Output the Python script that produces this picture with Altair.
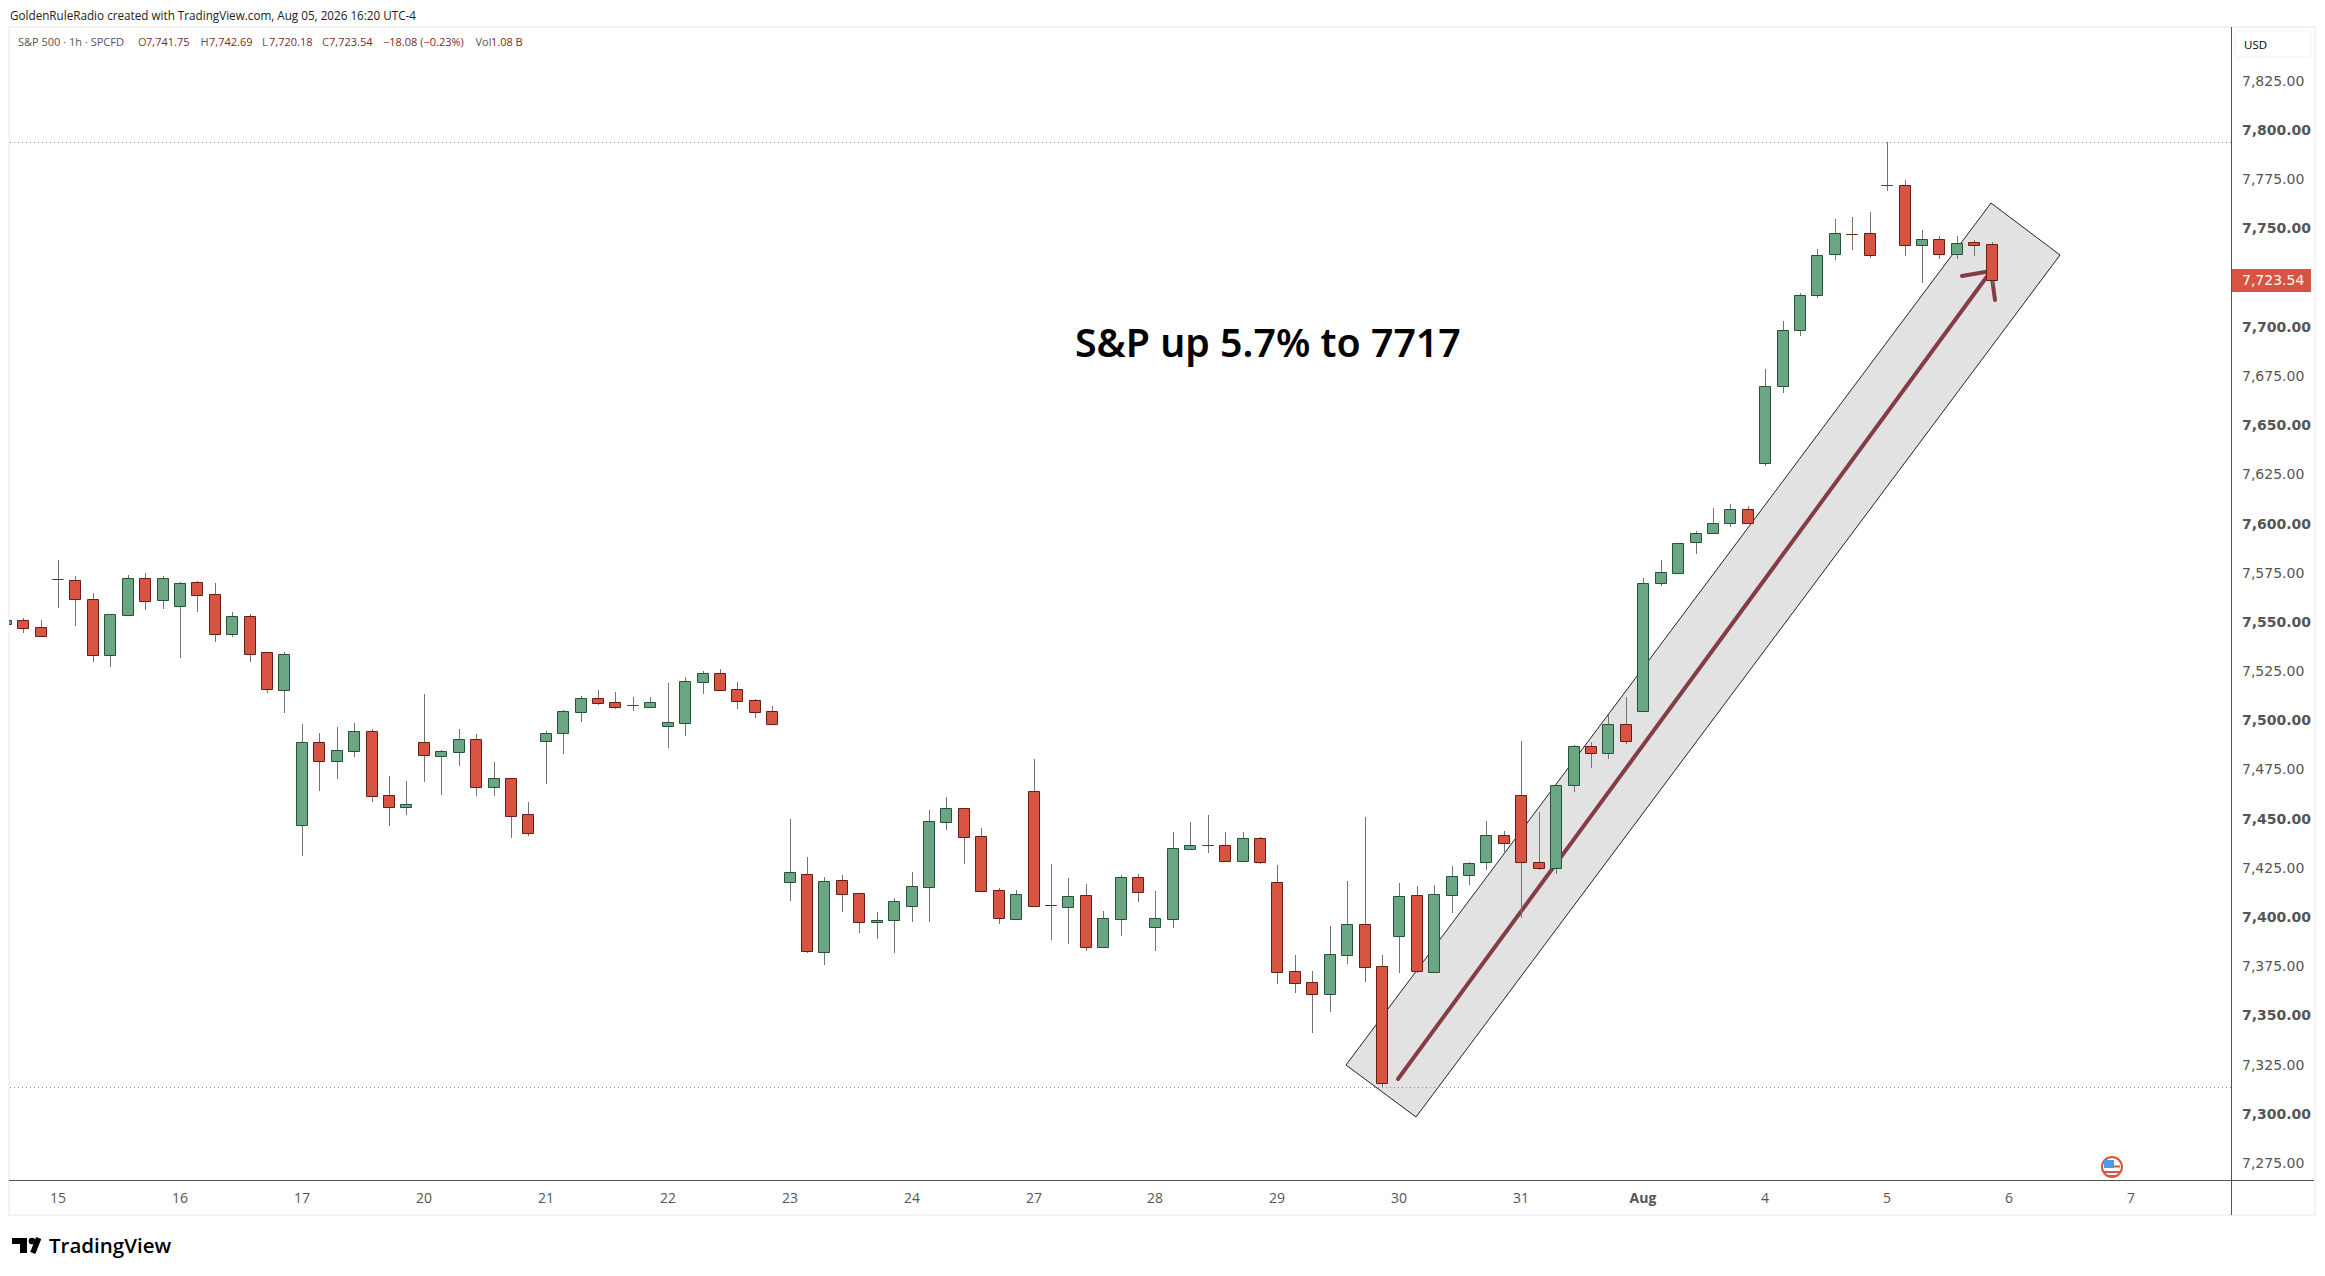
import altair as alt
import pandas as pd

# ---- chart values -------------------------------------------------------
first_bar = -3
opens = [7548.44,7550.30,7546.74,7571.14,7570.64,7560.98,7532.85,7553.18,7571.65,7560.81,7557.76,7569.62,7563.52,7543.52,7552.33,7534.03,7515.05,
7446.42,7488.28,7478.96,7484.04,7493.87,7461.33,7455.57,7488.28,7481.50,7483.53,7489.80,7465.74,7469.98,7451.67,7489.13,7493.19,7503.87,7510.65,7508.61,7507.09,7506.41,7496.75,7498.28,7519.12,7523.36,7515.22,7509.63,7504.04,
7417.45,7421.17,7381.86,7418.12,7411.52,7397.11,7398.13,7405.25,7414.90,7447.95,7454.73,7440.49,7413.04,7398.64,7463.37,7405.42,7404.74,7410.50,7384.40,7398.64,7419.65,7394.57,7398.64,7434.22,7435.92,7435.92,7428.12,7439.48,7417.11,7371.86,7366.27,7360.51,7380.34,7395.76,
7374.40,7389.65,7410.49,7371.69,7410.83,7420.66,7427.27,7441.00,7461.33,7427.27,7424.56,7466.42,7486.24,7482.68,7497.43,7504.03,7569.11,7574.19,7589.95,7594.53,7599.61,7606.73,7630.12,7669.26,7697.73,7715.52,7736.37,7746.87,7747.04,7771.45,7771.45,7740.94,7743.99,7736.37,7742.47,7741.75]
highs = [7550.47,7551.32,7550.47,7580.97,7572.84,7564.20,7553.35,7573.35,7574.36,7572.67,7569.79,7570.30,7569.28,7554.54,7553.52,7534.03,7534.20,
7497.60,7493.02,7496.07,7498.11,7495.06,7471.16,7468.62,7512.85,7484.21,7495.06,7492.34,7478.28,7469.98,7457.94,7494.04,7504.72,7511.83,7514.88,7513.87,7511.32,7511.32,7518.44,7521.49,7524.54,7525.56,7518.95,7510.31,7506.75,
7449.31,7429.99,7419.82,7420.67,7411.52,7402.03,7408.97,7422.36,7453.71,7460.49,7454.73,7444.73,7414.06,7413.21,7479.81,7426.43,7419.31,7416.26,7402.53,7420.84,7421.34,7412.70,7442.70,7447.78,7451.34,7442.70,7442.70,7440.15,7425.92,7380.17,7372.03,7394.91,7417.79,7450.32,
7380.16,7416.76,7415.24,7415.75,7425.41,7427.27,7448.28,7443.20,7488.95,7452.86,7466.42,7486.92,7488.45,7502.17,7511.32,7571.65,7580.97,7589.44,7595.71,7607.41,7609.44,7608.42,7678.07,7702.48,7716.71,7739.08,7754.33,7755.35,7757.89,7793.31,7774.16,7748.74,7745.69,7745.69,7743.65,7742.69]
lows = [7548.44,7544.03,7542.50,7556.57,7547.42,7529.29,7526.58,7553.18,7555.55,7556.06,7531.15,7554.54,7539.29,7541.83,7529.12,7513.36,7503.19,
7430.49,7463.54,7469.64,7480.82,7457.94,7445.74,7451.34,7468.11,7461.50,7476.25,7460.99,7460.99,7439.64,7440.66,7467.10,7482.35,7498.61,7507.26,7505.22,7504.21,7505.73,7485.40,7491.50,7512.85,7515.05,7505.22,7500.65,7497.77,
7407.79,7381.18,7375.08,7402.03,7391.35,7388.30,7381.18,7396.94,7396.94,7443.71,7426.43,7412.87,7395.93,7398.64,7405.25,7387.79,7385.76,7382.20,7384.40,7389.82,7407.11,7382.20,7393.89,7433.55,7432.02,7427.44,7428.12,7426.43,7365.42,7360.85,7340.51,7351.19,7375.59,7366.44,
7313.22,7371.18,7370.84,7371.18,7401.51,7415.75,7423.37,7432.52,7398.97,7423.37,7421.34,7463.03,7475.23,7479.80,7487.43,7504.03,7567.92,7574.19,7584.19,7594.53,7597.92,7599.61,7628.93,7666.04,7695.02,7714.34,7733.66,7738.74,7734.67,7768.73,7735.69,7721.96,7734.16,7734.16,7735.69,7720.18]
closes = [7550.47,7546.57,7542.50,7571.14,7561.32,7532.85,7553.35,7571.65,7560.30,7571.65,7569.11,7563.35,7543.52,7552.33,7533.35,7515.56,7533.02,
7488.28,7478.96,7484.21,7493.87,7461.16,7455.57,7456.76,7482.01,7483.70,7489.80,7465.74,7469.98,7451.00,7442.35,7492.85,7504.04,7510.65,7508.44,7506.41,7507.09,7508.61,7498.45,7519.29,7523.36,7515.05,7509.46,7503.87,7497.77,
7422.19,7382.37,7417.62,7411.35,7397.11,7397.96,7407.45,7415.07,7448.12,7454.73,7440.32,7412.87,7399.14,7411.01,7405.25,7405.42,7409.99,7384.40,7398.81,7419.65,7412.36,7398.81,7434.39,7435.92,7435.92,7428.12,7439.48,7427.61,7371.69,7366.10,7360.51,7380.50,7395.76,7374.23,
7315.26,7409.99,7372.20,7411.00,7420.15,7426.76,7441.00,7436.93,7427.27,7424.22,7466.42,7486.24,7482.68,7497.43,7488.78,7569.11,7574.70,7589.44,7594.53,7599.61,7606.73,7599.61,7669.26,7697.73,7715.52,7735.86,7747.04,7746.87,7735.86,7771.45,7740.94,7743.99,7736.37,7741.96,7740.94,7723.54]
doji_up = [0, 33, 47, 66, 105]

day_labels = ["15","16","17","20","21","22","23","24","27","28","29","30","31","Aug","4","5","6","7"]
price_ticks = list(range(7275, 7850, 25))
level_lines = [7793.31, 7312.90]

channel_k = [73.95, 77.96, 114.93, 110.95, 73.95]
channel_p = [7324.2, 7298.0, 7736.0, 7762.5, 7324.2]
arrow_k = [76.94, 110.95, 109.28, 110.95, 111.19]
arrow_p = [7317.0, 7727.9, 7725.4, 7727.9, 7713.2]

headline = "S&P up 5.7% to 7717"
credit = "GoldenRuleRadio created with TradingView.com, Aug 05, 2026 16:20 UTC-4"
last_price = "7,723.54"
legend_parts = [("S&P 500 · 1h · SPCFD", 18, "g"), ("O", 138, "g"), ("7,741.75", 146, "r"), ("H", 200.5, "g"), ("7,742.69", 209, "r"),
                ("L", 262, "g"), ("7,720.18", 269, "r"), ("C", 322, "g"), ("7,723.54", 329, "r"),
                ("−18.08 (−0.23%)", 383, "r"), ("Vol", 475.5, "g"), ("1.08 B", 491, "r")]

# ---- geometry -------------------------------------------------------------
OX, OY = 9, 27           # page position of the plot's origin
W, H = 2222, 1153
GREEN, GREEN_D = "#6ba583", "#225437"
RED, RED_D = "#d75442", "#6b1c14"
AXC = "#555555"

bars = pd.DataFrame({"o": opens, "h": highs, "l": lows, "c": closes})
bars["k"] = range(first_bar, first_bar + len(bars))
bars["dir"] = ["up" if (c > o or k in doji_up) else "down" for o, c, k in zip(bars.o, bars.c, bars.k)]

xs = alt.Scale(domain=[-2.813, 124.74], nice=False, zero=False, round=True, padding=0)
ys = alt.Scale(domain=[7265.8, 7851.9], nice=False, zero=False, round=True, padding=0)
x_plain = alt.X("k:Q", scale=xs, axis=None)
y_plain = alt.Y("p:Q", scale=ys, axis=None)

one = pd.DataFrame({"a": [0]})


def px(x):
    return alt.value(x - OX)


def py(y):
    return alt.value(y - OY)


def label(text, x, y, color="#000000", size=11, font="Open Sans", weight="normal", align="left", baseline="middle"):
    return alt.Chart(one).mark_text(text=text, color=color, fontSize=size, font=font, fontWeight=weight,
                                    align=align, baseline=baseline).encode(x=px(x), y=py(y))


def box(x0, x1, y0, y1, **kw):
    return alt.Chart(one).mark_rect(**kw).encode(x=px(x0), x2=px(x1), y=py(y0), y2=py(y1))


def hv(x0, x1, y0, y1, color=AXC, width=1):
    return alt.Chart(one).mark_rule(color=color, strokeWidth=width).encode(x=px(x0), x2=px(x1), y=py(y0), y2=py(y1))


panel = box(9, 2315, 27, 1215, fill="transparent", stroke="#f3f3f3", strokeWidth=2)

channel = alt.Chart(pd.DataFrame({"k": channel_k, "p": channel_p, "i": range(5)})).mark_line(
    fill="#e2e2e2", stroke="#222222", strokeWidth=1).encode(x=x_plain, y=y_plain, order="i:Q")

arrow = alt.Chart(pd.DataFrame({"k": arrow_k, "p": arrow_p, "i": range(5)})).mark_line(
    color="#853d45", strokeWidth=4, strokeCap="round", strokeJoin="round").encode(x=x_plain, y=y_plain, order="i:Q")

levels = alt.Chart(pd.DataFrame({"p": level_lines})).mark_rule(
    color="#888888", strokeWidth=1, strokeDash=[1, 3], yOffset=0.5).encode(x=px(10), x2=px(2231), y=y_plain)

wicks = alt.Chart(bars).mark_rule(color="#737375", strokeWidth=1, clip=True, xOffset=0.5).encode(
    x=x_plain, y=alt.Y("h:Q", scale=ys, axis=None), y2="l:Q")

bodies = alt.Chart(bars).mark_bar(size=11, strokeWidth=1, clip=True, yOffset=0.5, y2Offset=0.5).encode(
    x=x_plain,
    y=alt.Y("o:Q", scale=ys, axis=None),
    y2="c:Q",
    fill=alt.Fill("dir:N", scale=alt.Scale(domain=["up", "down"], range=[GREEN, RED]), legend=None),
    stroke=alt.Stroke("dir:N", scale=alt.Scale(domain=["up", "down"], range=[GREEN_D, RED_D]), legend=None),
)

# axis labels, placed through the same scales as the candles
price_df = pd.DataFrame({"p": price_ticks})
price_df["t"] = [f"{v:,.2f}" for v in price_ticks]
day_df = pd.DataFrame({"t": day_labels, "k": [i * 7 for i in range(len(day_labels))]})


def price_labels(df, weight):
    return alt.Chart(df).mark_text(font="DejaVu Sans", fontSize=14, color="#555555", align="left", baseline="middle",
                                   dy=1.5, fontWeight=weight).encode(x=px(2242), y=y_plain, text="t:N")


def day_text(df, weight):
    return alt.Chart(df).mark_text(font="Open Sans", fontSize=14, color="#555555", align="center", baseline="middle",
                                   fontWeight=weight).encode(x=x_plain, y=py(1199), text="t:N")


axis_text = [
    price_labels(price_df[price_df.p % 50 != 0], "normal"),
    price_labels(price_df[price_df.p % 50 == 0], "bold"),
    day_text(day_df[day_df.t != "Aug"], "normal"),
    day_text(day_df[day_df.t == "Aug"], "bold"),
]

frame = [
    hv(9, 2314, 1180.5, 1180.5),
    hv(2231.5, 2231.5, 27, 1215),
]

usd = [box(2235, 2311, 31, 57, fill="#ffffff", stroke="#f0f0f0", strokeWidth=1, cornerRadius=4),
       label("USD", 2244, 45.5, size=11.5)]
tag = [box(2232, 2311, 269, 292, fill=RED), label(last_price, 2242, 281, color="#ffffff", size=14, font="DejaVu Sans")]

head = [label(credit, 10, 15.5, color="#222222", size=11.7)]
for txt, xx, kind in legend_parts:
    head.append(label(txt, xx, 42.5, color="#555555" if kind == "g" else "#7a2b26", size=11))

big = label(headline, 1075, 357, size=39.3, font="Noto Sans", weight=600, baseline="alphabetic")

tv = [
    box(12, 27, 1238, 1244, fill="#000000"),
    box(20, 27, 1238, 1253, fill="#000000"),
    alt.Chart(one).mark_point(filled=True, color="#000000", size=45, opacity=1).encode(x=px(32), y=py(1241)),
    hv(38.7, 32.8, 1238, 1253, color="#000000", width=5.5),
    label("TradingView", 49, 1247, size=20.5, font="Open Sans", weight=600),
]

flag = [
    alt.Chart(one).mark_point(filled=False, color=RED, size=400, strokeWidth=2, opacity=1).encode(x=px(2112), y=py(1167)),
    box(2104, 2120, 1171, 1173, fill=RED),
    box(2107, 2117, 1175, 1176.5, fill=RED),
    box(2114, 2120, 1165.5, 1167.5, fill=RED),
    box(2104, 2114, 1160, 1168, fill="#4a9be8"),
]

chart = alt.layer(
    panel, channel, levels, arrow, wicks, bodies, *axis_text, *frame, *usd, *tag, *head, big, *tv, *flag
).resolve_scale(x="shared", y="shared").properties(
    width=W, height=H,
    padding={"left": 1, "top": 19, "right": 85, "bottom": 80},
    autosize=alt.AutoSizeParams(type="none"),
    background="#ffffff",
).configure_view(stroke=None)

chart.save("out.html", embed_options={"renderer": "svg", "actions": False})
